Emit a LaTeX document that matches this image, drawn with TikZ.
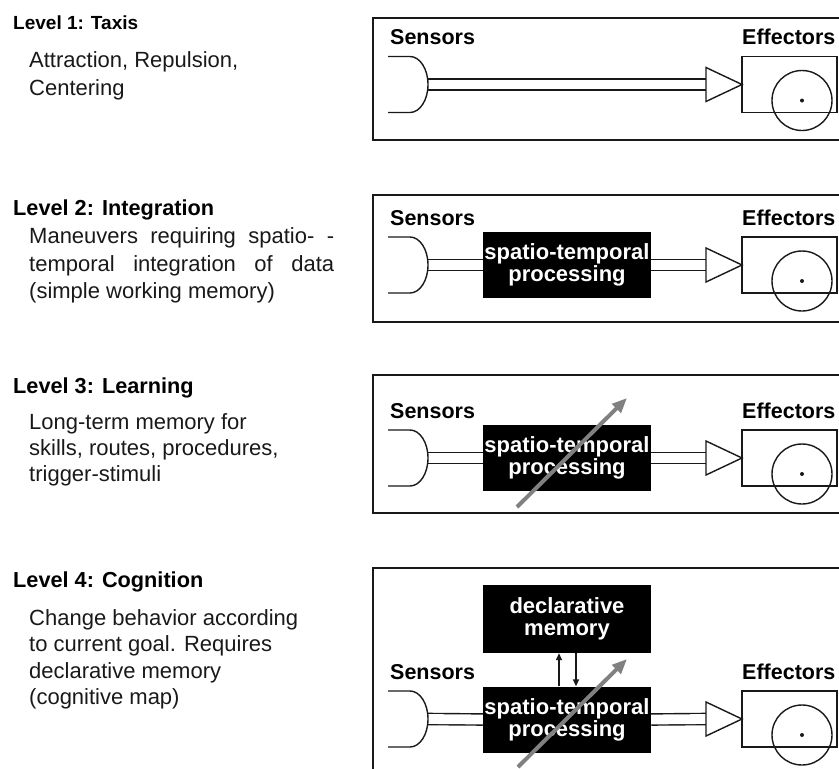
\documentclass[tikz,border=0pt]{standalone}
\usepackage{fontspec}
\setmainfont{Liberation Sans}
\usetikzlibrary{arrows.meta}
\pgfdeclarelayer{bg}
\pgfsetlayers{bg,main}
\definecolor{arrowgray}{RGB}{128,128,128}
\definecolor{ink}{RGB}{25,25,25}

\tikzset{
  frame/.style={draw=ink, line width=1.5pt},
  wire/.style={draw=ink, line width=1.4pt},
  dblwire/.style={draw=ink, line width=1.4pt, double=white, double distance=9.8pt},
  blackbox/.style={fill=black, text=white, minimum width=168pt, minimum height=66pt,
    inner sep=0pt, align=center, font=\bfseries\fontsize{22}{22}\selectfont},
  lbl/.style={anchor=base west, inner sep=0pt, text=black, font=\bfseries\fontsize{21.5}{24}\selectfont},
  title/.style={anchor=base west, inner sep=0pt, text=black, font=\bfseries\fontsize{21.7}{24}\selectfont},
  body/.style={anchor=base west, inner sep=0pt, text=ink, font=\fontsize{22}{26}\selectfont},
  learn/.style={draw=arrowgray, line width=4pt, -{Triangle[length=15pt,width=12pt]}},
  link/.style={wire, -{Triangle[length=7pt,width=6pt]}},
  sensor/.pic={
    \draw[wire] (0,-28) -- (22,-28)
      arc[start angle=-90, end angle=90, x radius=18, y radius=28] -- (0,28);
    \coordinate (-out) at (40,0);
  },
  effector/.pic={
    \draw[wire] (0,-28) rectangle (95,28);
    \draw[wire] (60,16) circle[radius=30];
    \fill[ink] (60,16) circle[radius=2];
    \draw[wire, fill=white] (-36,-17) -- (0,0) -- (-36,17) -- cycle;
    \coordinate (-in) at (-36,0);
  },
}

\begin{document}
\begin{tikzpicture}[x=1pt, y=-1pt]
\useasboundingbox (0,0) rectangle (839,769);
\clip (0,0) rectangle (839,769);

% ---------- descriptions ----------
\node[title, font=\bfseries\fontsize{19}{22}\selectfont] (t1) at (13,29) {Level 1: Taxis};
\node[body] (t1a) at (29,67) {Attraction, Repulsion,};
\node[body] (t1b) at (29,95) {Centering};

\node[title] (t2) at (13,215) {Level 2: Integration};
\node[body] (t2a) at (29,243) {\makebox[305pt][s]{Maneuvers requiring spatio- -}};
\node[body] (t2b) at (29,271) {\makebox[305pt][s]{temporal integration of data}};
\node[body] (t2c) at (29,298) {(simple working memory)};

\node[title] (t3) at (13,393) {Level 3: Learning};
\node[body] (t3a) at (29,429) {Long-term memory for};
\node[body] (t3b) at (29,455) {skills, routes, procedures,};
\node[body] (t3c) at (29,481) {trigger-stimuli};

\node[title] (t4) at (13,587) {Level 4: Cognition};
\node[body] (t4a) at (29,625) {Change behavior according};
\node[body] (t4b) at (29,651) {to current goal. Requires};
\node[body] (t4c) at (29,678) {declarative memory};
\node[body] (t4d) at (29,704) {(cognitive map)};

% ---------- level 1 ----------
\draw[frame] (373,18) rectangle (850,140);
\node[lbl] (sl1) at (390,44.5) {Sensors};
\node[lbl] (el1) at (742,44.5) {Effectors};
\pic (s1) at (388,84.5) {sensor};
\pic (e1) at (742,84.5) {effector};
\begin{pgfonlayer}{bg}
  \draw[dblwire] (s1-out) -- (e1-in);
\end{pgfonlayer}

% ---------- level 2 ----------
\draw[frame] (373,195) rectangle (850,322);
\node[lbl] (sl2) at (390,225) {Sensors};
\node[lbl] (el2) at (742,225) {Effectors};
\pic (s2) at (388,265) {sensor};
\pic (e2) at (742,265) {effector};
\node[blackbox] (p2) at (567,265) {spatio-temporal\\processing};
\begin{pgfonlayer}{bg}
  \draw[dblwire] (s2-out) -- (p2.west);
  \draw[dblwire] (p2.east) -- (e2-in);
\end{pgfonlayer}

% ---------- level 3 ----------
\draw[frame] (373,375) rectangle (850,513);
\node[lbl] (sl3) at (390,418) {Sensors};
\node[lbl] (el3) at (742,418) {Effectors};
\pic (s3) at (388,458) {sensor};
\pic (e3) at (742,458) {effector};
\node[blackbox] (p3) at (567,458) {spatio-temporal\\processing};
\begin{pgfonlayer}{bg}
  \draw[dblwire] (s3-out) -- (p3.west);
  \draw[dblwire] (p3.east) -- (e3-in);
\end{pgfonlayer}
\draw[learn] ([shift={(-50,49)}]p3.center) -- ([shift={(60,-60)}]p3.center);

% ---------- level 4 ----------
\draw[frame] (373,568) rectangle (850,800);
\node[lbl] (sl4) at (390,679) {Sensors};
\node[lbl] (el4) at (742,679) {Effectors};
\pic (s4) at (388,719) {sensor};
\pic (e4) at (742,719) {effector};
\node[blackbox] (p4) at (567,719.5) {spatio-temporal\\processing};
\node[blackbox, minimum height=68pt] (d4) at (567,619) {declarative\\memory};
\begin{pgfonlayer}{bg}
  \draw[dblwire] (s4-out) -- (p4.west);
  \draw[dblwire] (p4.east) -- (e4-in);
\end{pgfonlayer}
\draw[link] ([xshift=-8pt]p4.north) -- ([xshift=-8pt]d4.south);
\draw[link] ([xshift=9pt]d4.south) -- ([xshift=9pt]p4.north);
\draw[learn] ([shift={(-49,47.5)}]p4.center) -- ([shift={(60,-60.5)}]p4.center);
\end{tikzpicture}
\end{document}
